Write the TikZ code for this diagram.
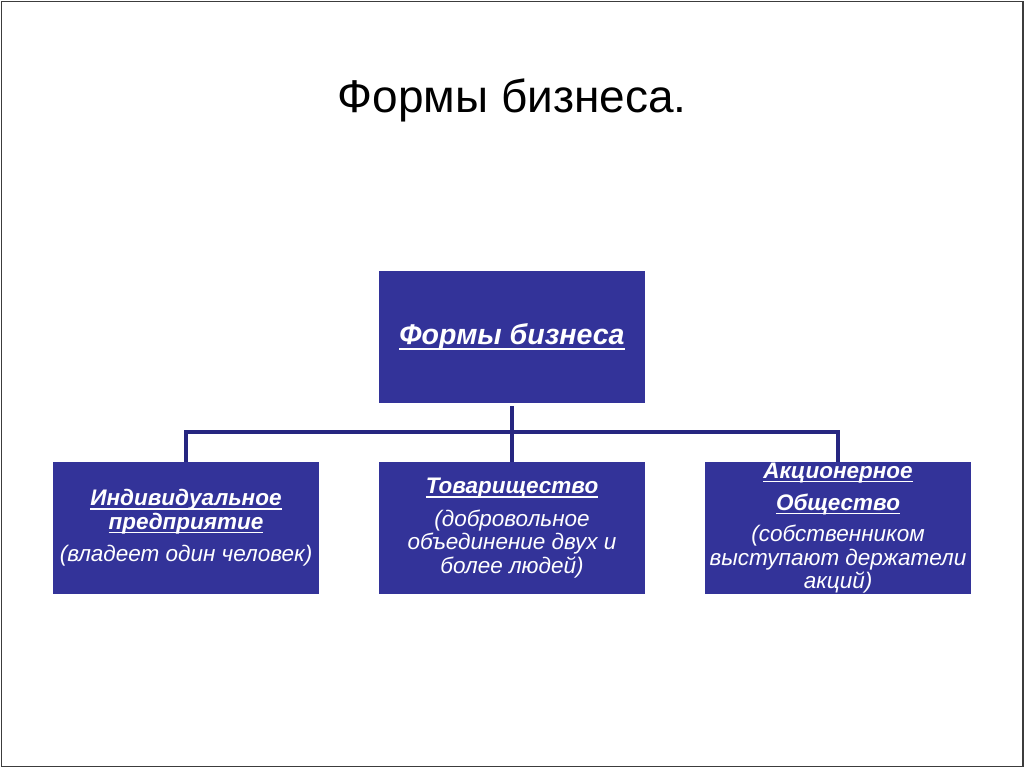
\documentclass[tikz,border=0pt]{standalone}
\usepackage{fontspec}
\setmainfont{Liberation Sans}
\definecolor{bizblue}{RGB}{51,51,153}
\definecolor{bizline}{RGB}{38,38,128}
\definecolor{frameline}{RGB}{60,60,60}
\newsavebox{\headbox}
\newcommand{\formhead}[1]{\sbox{\headbox}{\bfseries\itshape #1}%
  \leavevmode\rlap{\rule[-0.18em]{\wd\headbox}{0.07em}}\usebox{\headbox}}
\tikzset{
  formbox/.style={rectangle, fill=bizblue, text=white, align=center,
    minimum width=6.65cm, minimum height=3.28cm, inner sep=0pt,
    font=\fontsize{16}{16.6}\selectfont},
  link/.style={draw=bizline, line width=2.4pt}
}
\begin{document}
\begin{tikzpicture}[x=0.025cm, y=-0.025cm]
  \useasboundingbox (0,0) rectangle (1024,768);
  \fill[white] (0,0) rectangle (1024,768);
  \draw[frameline, line width=1.4pt] (1.5,1.5) rectangle (1022.5,766.5);

  \node (title) at (512,100) {\fontsize{32.7}{38}\selectfont Формы бизнеса.};

  \node[formbox, font=\fontsize{20.3}{24}\selectfont] (forms) at (512,337)
    {\formhead{Формы бизнеса}};

  \node[formbox] (sole) at (186,528)
    {\formhead{Индивидуальное}\\ \formhead{предприятие}\\[6.5pt]
     \textit{(владеет один человек)}};
  \node[formbox] (partner) at (512,528)
    {\formhead{Товарищество}\\[6.5pt]
     \textit{(добровольное}\\ \textit{объединение двух и}\\ \textit{более людей)}};
  \node[formbox] (joint) at (838,528)
    {\formhead{Акционерное}\\[6pt] \formhead{Общество}\\[6pt]
     \textit{(собственником}\\ \textit{выступают держатели}\\ \textit{акций)}};

  % connectors
  \coordinate (hub) at (512,432);
  \draw[link] ([yshift=-0.08cm]forms.south) -- (partner.north);
  \draw[link] (sole.north) -- (sole.north |- hub) -- (joint.north |- hub) -- (joint.north);
\end{tikzpicture}
\end{document}
